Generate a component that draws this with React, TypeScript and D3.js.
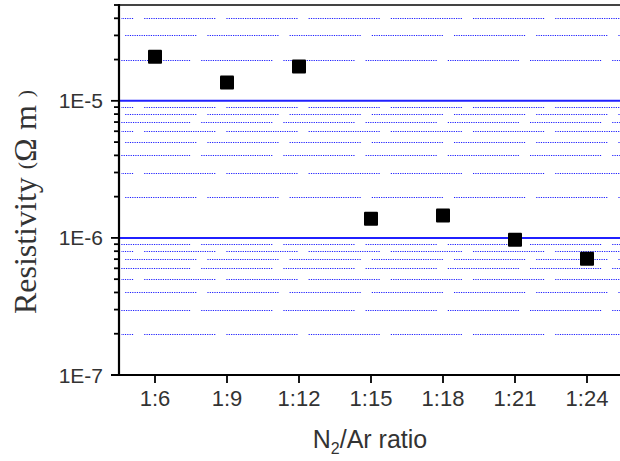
import * as d3 from "d3";
import React from "react";

// N2/Ar ratio vs resistivity (Ohm m)
const ratios = ["1:6", "1:9", "1:12", "1:15", "1:18", "1:21", "1:24"];
const resistivity = [2.1e-5, 1.36e-5, 1.78e-5, 1.38e-6, 1.46e-6, 9.7e-7, 7.06e-7];
const yTickLabels = ["1E-7", "1E-6", "1E-5"];
const yDecades = [1e-7, 1e-6, 1e-5];
const minorMultipliers = [2, 3, 4, 5, 6, 7, 8, 9];

const W = 620, H = 461;
const margin = { top: 5, right: -3, bottom: 86, left: 119 };

// dotted gridline pattern: a run of dots then a small gap
const dotRun = d3.range(30).map(() => "1.2 1.13").join(" ") + " 1.2 11.1";

export default function App() {
  const x = d3.scalePoint<string>()
    .domain(ratios)
    .range([margin.left, W - margin.right])
    .padding(0.5);
  const y = d3.scaleLog()
    .domain([1e-7, 5e-5])
    .range([H - margin.bottom, margin.top]);

  const minors: number[] = [];
  yDecades.forEach(d => minorMultipliers.forEach(m => {
    const v = d * m;
    if (v <= 5e-5) minors.push(v);
  }));

  const x0 = margin.left, x1 = W - margin.right;
  const yb = H - margin.bottom;
  const phases = [59, 2, 78];

  return (
    <svg width={W} height={H} style={{ position: "absolute", left: 0, top: 0, background: "#fff" }}>
      {/* minor gridlines */}
      {minors.map((v, i) => (
        <line key={"g" + i} x1={x0 + 2} x2={x1} y1={Math.round(y(v)) + 0.5} y2={Math.round(y(v)) + 0.5}
          stroke="#1f1fff" strokeWidth={1.2}
          strokeDasharray={dotRun} strokeDashoffset={phases[i % 3]} />
      ))}
      {/* major gridlines */}
      {yDecades.slice(1).map(v => (
        <line key={"M" + v} x1={x0} x2={x1} y1={y(v)} y2={y(v)} stroke="#2020ff" strokeWidth={2} />
      ))}
      {/* frame */}
      <g stroke="black" strokeWidth={2.2} fill="none">
        <line x1={x0} x2={x1} y1={margin.top} y2={margin.top} stroke="#444" />
        <line x1={x0} x2={x0} y1={margin.top - 1} y2={yb + 1} />
        <line x1={x0 - 8} x2={x1} y1={yb} y2={yb} />
        {yDecades.map(v => (
          <line key={"yt" + v} x1={x0 - 8} x2={x0} y1={y(v)} y2={y(v)} strokeWidth={1.8} />
        ))}
        {minors.map((v, i) => (
          <line key={"mt" + i} x1={x0 - 5} x2={x0} y1={y(v)} y2={y(v)} strokeWidth={1.8} />
        ))}
        {ratios.map(r => (
          <line key={"xt" + r} x1={x(r)} x2={x(r)} y1={yb} y2={yb + 8} strokeWidth={1.8} />
        ))}
      </g>
      {/* tick labels */}
      {yDecades.map((v, i) => (
        <text key={"yl" + v} x={x0 - 16} y={y(v)} dy="0.36em" textAnchor="end"
          fontFamily="Liberation Sans, Arial, sans-serif" fontSize={21} fill="#333">{yTickLabels[i]}</text>
      ))}
      {ratios.map(r => (
        <text key={"xl" + r} x={x(r)} y={yb + 31} textAnchor="middle"
          fontFamily="Liberation Sans, Arial, sans-serif" fontSize={22} fill="#333">{r}</text>
      ))}
      {/* points */}
      {ratios.map((r, i) => (
        <rect key={"p" + r} x={(x(r) as number) - 7} y={y(resistivity[i]) - 7} width={14} height={14} rx={1} fill="#000" />
      ))}
      {/* axis titles */}
      <text x={370} y={448} textAnchor="middle" fontFamily="Liberation Sans, Arial, sans-serif" fontSize={25} fill="#333">
        N<tspan fontSize={16} dy={6}>2</tspan><tspan dy={-6}>/Ar ratio</tspan>
      </text>
      <text transform="translate(36,202) rotate(-90)" textAnchor="middle"
        fontFamily="Liberation Serif, Times New Roman, serif" fontSize={32} fill="#333">
        Resistivity <tspan fontSize={22} dy={-3}>(</tspan><tspan dy={3}>Ω m </tspan><tspan fontSize={22} dy={-3}>)</tspan>
      </text>
    </svg>
  );
}
